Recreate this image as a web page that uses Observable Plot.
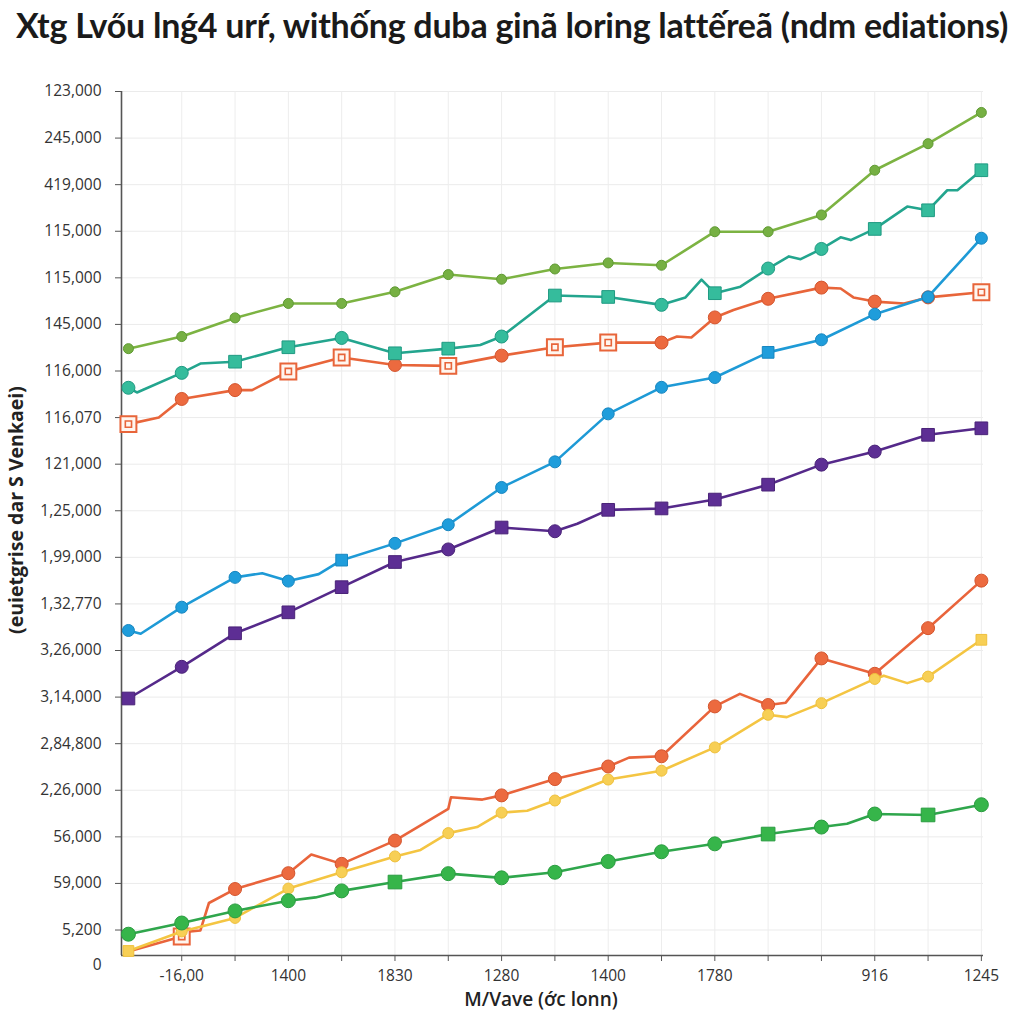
<!DOCTYPE html>
<html><head><meta charset="utf-8">
<script src="https://cdn.jsdelivr.net/npm/d3@7"></script>
<script src="https://cdn.jsdelivr.net/npm/@observablehq/plot@0.6"></script>
<style>
body{margin:0;background:#fff;width:1024px;height:1024px;position:relative;overflow:hidden;font-family:"Open Sans",sans-serif}
#title{position:absolute;left:0;top:4px;width:1024px;text-align:center;font-family:Lato,sans-serif;font-weight:700;font-size:34px;color:#1a1a1a;white-space:nowrap;letter-spacing:-0.25px}
#chart{position:absolute;left:0;top:0}
#xtitle{position:absolute;left:0;width:1082px;top:986px;text-align:center;font-family:"Open Sans",sans-serif;font-weight:600;font-size:19px;color:#222}
#ytitle{position:absolute;left:15px;top:510px;transform:translate(-50%,-50%) rotate(-90deg);white-space:nowrap;font-family:"Open Sans",sans-serif;font-weight:700;font-size:19.5px;color:#222}
</style></head>
<body>
<div id="chart"></div>
<div id="title">Xtg Lvőu lnǵ4 urŕ, withống duba ginã loring lattếreã (ndm ediations)</div>
<div id="xtitle">M/Vave (ớc lonn)</div>
<div id="ytitle">(euietgrise dar S Venkaei)</div>
<script>
// y tick labels, top to bottom (tick values 19 .. 1)
const yLabels = ["123,000","245,000","419,000","115,000","115,000","145,000","116,000","116,070","121,000","1,25,000","1,99,000","1,32,770","3,26,000","3,14,000","2,84,800","2,26,000","56,000","59,000","5,200"];
const yTicks = [19,18,17,16,15,14,13,12,11,10,9,8,7,6,5,4,3,2,1];
const xTicks = [1,2,3,4,5,6,7,8,9,10,11,12,13,14,15,16];
const xLabelPos = [1,3,5,7,9,11,14,16];
const xLabels = ["-16,00","1400","1830","1280","1400","1780","916","1245"];

// series: x positions (incl. kinks), values, marker types per integer x (c circle, s square, h hollow square, - none)
const s1x = [0,1,2,3,4,5,6,7,8,9,10,11,12,13,14,15,16];
const s1v = [13.48,13.74,14.14,14.45,14.45,14.70,15.07,14.97,15.19,15.32,15.27,15.99,15.99,16.35,17.31,17.88,18.55];
const s1m = "ccccccccccccccccc";

const s2x = [0,0.16,1,1.35,2,3,4,5,6,6.6,7,8,9,10,10.45,10.75,11,11.48,12,12.39,12.61,13,13.36,13.55,14,14.61,15,15.36,15.55,16];
const s2v = [12.64,12.54,12.96,13.16,13.20,13.51,13.71,13.38,13.48,13.56,13.74,14.62,14.59,14.42,14.58,14.96,14.67,14.81,15.20,15.46,15.40,15.62,15.87,15.81,16.05,16.53,16.45,16.88,16.88,17.31];
const s2m = "ccsscsscsscsccsss";

const s3x = [0,0.57,1,2,2.32,3,4,5,6,7,8,9,10,10.29,10.56,11,11.35,12,13,13.36,13.6,14,14.55,15,16];
const s3v = [11.86,12.00,12.40,12.59,12.59,12.99,13.29,13.13,13.11,13.33,13.51,13.61,13.61,13.74,13.72,14.15,14.31,14.55,14.79,14.77,14.58,14.49,14.45,14.58,14.69];
const s3m = "hcchhchchhcccccch";

const s4x = [0,0.23,1,2,2.51,3,3.57,4,5,6,7,8,9,10,11,12,13,14,15,16];
const s4v = [7.43,7.36,7.93,8.57,8.66,8.49,8.64,8.94,9.30,9.70,10.50,11.05,12.08,12.65,12.86,13.40,13.67,14.22,14.59,15.85];
const s4m = "ccccscccccccscccc";

const s5x = [0,1,2,3,4,5,6,7,8,8.42,9,10,11,12,13,14,15,16];
const s5v = [5.97,6.65,7.37,7.82,8.36,8.90,9.17,9.64,9.56,9.72,10.02,10.05,10.24,10.56,10.99,11.27,11.63,11.77];
const s5m = "scsssscscssssccss";

const s6x = [0,1,1.16,1.35,1.51,2,3,3.43,4,5,6,6.05,6.64,7,8,9,9.39,10,11,11.47,12,12.33,13,14,15,16];
const s6v = [0.54,0.86,0.97,0.99,1.58,1.88,2.22,2.62,2.42,2.92,3.60,3.85,3.80,3.89,4.24,4.51,4.70,4.73,5.80,6.07,5.83,5.88,6.83,6.50,7.48,8.50];
const s6m = "-hcccc-cccccccccc";

const s7x = [0,1,2,3,4,5,5.48,6,6.54,7,7.48,8,9,10,11,12,12.35,13,14,14.17,14.61,15,16];
const s7v = [0.55,0.97,1.26,1.89,2.24,2.58,2.72,3.08,3.21,3.52,3.56,3.78,4.23,4.42,4.92,5.62,5.57,5.87,6.39,6.46,6.30,6.44,7.23];
const s7m = "scccccccccccccccs";

const s8x = [0,1,2,3,3.51,4,5,6,7,8,9,10,11,12,13,13.48,14,15,16];
const s8v = [0.91,1.15,1.41,1.63,1.70,1.84,2.03,2.21,2.12,2.24,2.47,2.68,2.85,3.06,3.21,3.28,3.49,3.47,3.69];
const s8m = "cccccsccccccsccsc";

const series = [
  {x:s6x, v:s6v, m:s6m, line:"#e9643b", fill:"#ec6a3f", stroke:"#d4552e", r:6.5},
  {x:s7x, v:s7v, m:s7m, line:"#f4c542", fill:"#f7cf55", stroke:"#efc03c", r:5.5},
  {x:s8x, v:s8v, m:s8m, line:"#2fa64c", fill:"#36b54a", stroke:"#2a9c40", r:7},
  {x:s5x, v:s5v, m:s5m, line:"#55298a", fill:"#5d2e94", stroke:"#4a2378", r:6.5},
  {x:s3x, v:s3v, m:s3m, line:"#e8653a", fill:"#ec6a3f", stroke:"#d4552e", r:6.5},
  {x:s4x, v:s4v, m:s4m, line:"#1e9ad6", fill:"#1f9ddb", stroke:"#1786c0", r:6},
  {x:s2x, v:s2v, m:s2m, line:"#23a58e", fill:"#35bc9c", stroke:"#1f9a82", r:6.5},
  {x:s1x, v:s1v, m:s1m, line:"#7cb342", fill:"#76b043", stroke:"#5f9a33", r:5}
];

const marks = [
  Plot.gridY(yTicks, {stroke:"#ebebeb", strokeOpacity:1}),
  Plot.gridX(xTicks, {stroke:"#ededed", strokeOpacity:1}),
  Plot.axisY(yTicks, {tickFormat: d => yLabels[19 - d], tickSize:6, tickPadding:14, fontSize:15.5, fill:"#333", stroke:"#555", label:null}),
  Plot.axisX(xTicks, {tickFormat: d => { const k = xLabelPos.indexOf(d); return k >= 0 ? xLabels[k] : ""; }, tickSize:6, tickPadding:8, fontSize:15.5, fill:"#333", stroke:"#555", label:null}),
  Plot.axisY([0.24], {tickFormat: () => "0", tickSize:0, tickPadding:20, fontSize:15.5, fill:"#333", label:null}),
  Plot.ruleX([-0.13], {stroke:"#555", strokeWidth:1.6}),
  Plot.ruleY([0.453], {stroke:"#555", strokeWidth:1.6})
];

for (const s of series) {
  const pts = s.x.map((x,i) => ({x, v:s.v[i], t: Number.isInteger(x) ? s.m[x] : "-"}));
  marks.push(Plot.line(pts, {x:"x", y:"v", stroke:s.line, strokeWidth:2.6}));
  const circ = pts.filter(d => d.t === "c");
  const sq = pts.filter(d => d.t === "s");
  const hol = pts.filter(d => d.t === "h");
  marks.push(Plot.dot(circ, {x:"x", y:"v", symbol:"circle", r:s.r, fill:s.fill, stroke:s.stroke, strokeWidth:1}));
  marks.push(Plot.dot(sq, {x:"x", y:"v", symbol:"square", r:s.r*1.1, fill:s.fill, stroke:s.stroke, strokeWidth:1}));
  marks.push(Plot.dot(hol, {x:"x", y:"v", symbol:"square", r:9, fill:"#fff6ef", stroke:s.line, strokeWidth:2}));
  marks.push(Plot.dot(hol, {x:"x", y:"v", symbol:"square", r:3.5, fill:"none", stroke:s.line, strokeWidth:1.6}));
}

const chart = Plot.plot({
  width:1024, height:1024,
  marginLeft:121, marginRight:41, marginTop:91, marginBottom:69,
  x:{domain:[-0.13,16.04]},
  y:{domain:[0.453,19]},
  style:{fontFamily:"'Open Sans', sans-serif", fontSize:"15px", color:"#333", background:"transparent"},
  marks
});
document.getElementById("chart").appendChild(chart);
</script>
</body></html>
